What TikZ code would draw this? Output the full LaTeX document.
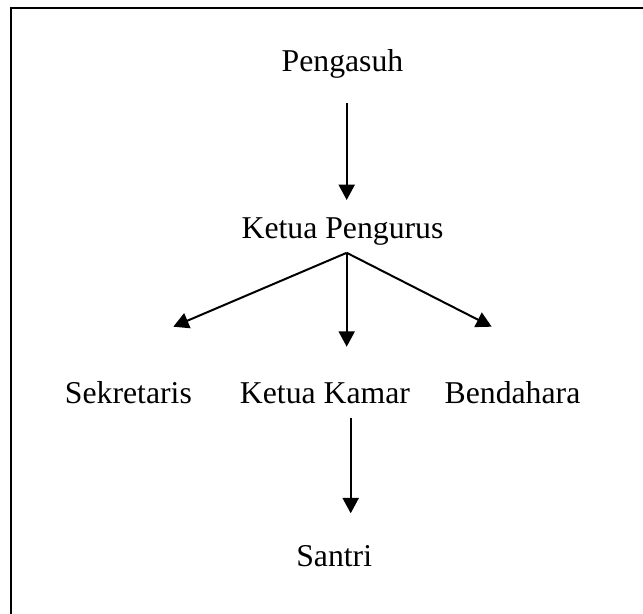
\documentclass[tikz,border=0pt]{standalone}
\usepackage{fontspec}
\setmainfont{Liberation Serif}
\usetikzlibrary{calc,arrows.meta}
\begin{document}
\begin{tikzpicture}[x=0.75pt,y=-0.75pt,
  lbl/.style={inner sep=0pt,anchor=base,font=\fontsize{23.8}{28}\selectfont},
  arr/.style={line width=1.5pt,-{Triangle[length=11.5pt,width=12pt]}},
  frame/.style={line width=1.6pt}]
\useasboundingbox (0,0) rectangle (643,614);
\draw[frame] (11,614) -- (11,8) -- (643,8);
\node[lbl] (p) at (342.5,71.7) {Pengasuh};
\node[lbl] (k) at (342.5,238.3) {Ketua Pengurus};
\node[lbl] (s) at (128.4,403.3) {Sekretaris};
\node[lbl] (kk) at (325,403.3) {Ketua Kamar};
\node[lbl] (b) at (512.5,403.3) {Bendahara};
\node[lbl] (sa) at (334.2,566.7) {Santri};
\draw[arr] ($(p.base)+(4.2,31.6)$) -- ($(k.base)+(4.2,-38.3)$);
\draw[arr] ($(k.base)+(4.2,14.5)$) -- ($(s.base)+(44.9,-76.6)$);
\draw[arr] ($(k.base)+(4.2,14.5)$) -- ($(kk.base)+(21.7,-56.6)$);
\draw[arr] ($(k.base)+(4.2,14.5)$) -- ($(b.base)+(-20.8,-76.6)$);
\draw[arr] ($(kk.base)+(25.7,15)$) -- ($(sa.base)+(16.5,-53.4)$);
\end{tikzpicture}
\end{document}
